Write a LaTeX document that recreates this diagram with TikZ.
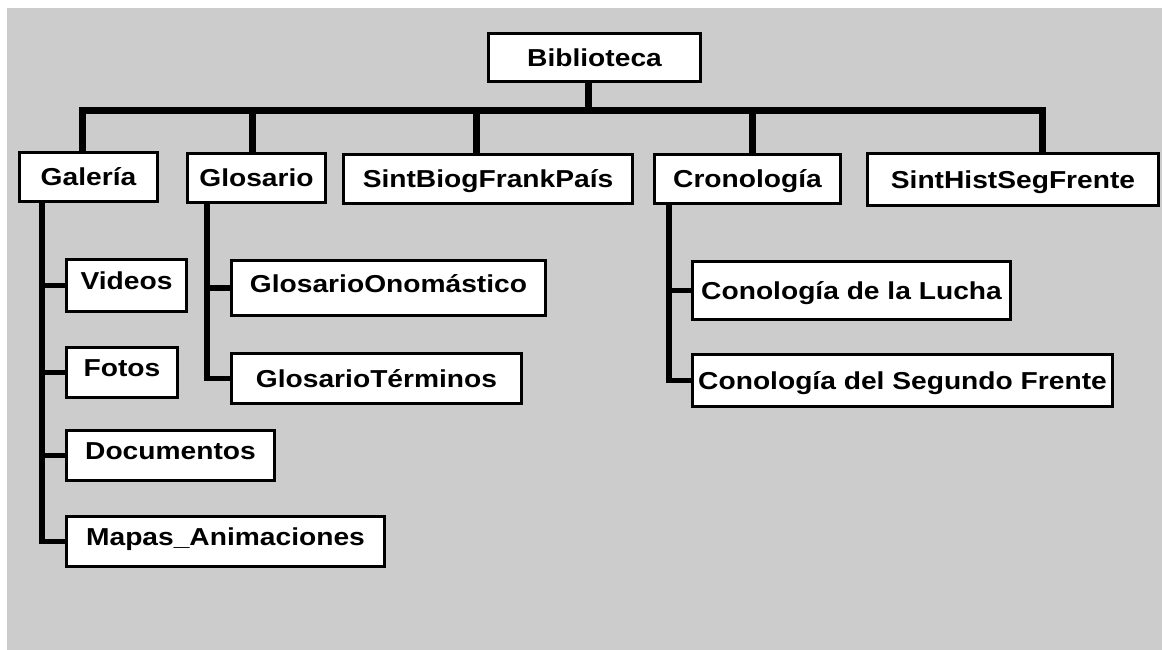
\documentclass[tikz,border=0pt]{standalone}
\usepackage{fontspec}
\newfontfamily\boxfont[FakeStretch=1.15]{Liberation Sans}
\begin{document}
\begin{tikzpicture}[x=1pt,y=-1pt,
  box/.style={draw=black, line width=3pt, fill=white, inner sep=0pt,
    text height=17.5pt, text depth=0pt,
    font=\boxfont\bfseries\fontsize{24.5}{29}\selectfont},
  up/.style={text depth=9pt},
  bus/.style={line width=7pt, line join=miter, line cap=butt},
  branch/.style={line width=5.5pt, line join=miter, line cap=butt}]

% page and grey panel
\useasboundingbox (0,0) rectangle (1162,650);
\fill[white] (0,0) rectangle (1162,650);
\fill[gray!40] (7,8) rectangle (1162,650);

% root
\node[box, minimum width=212, minimum height=48] (bib) at (594.5,57.5) {Biblioteca};

% first level
\node[box, minimum width=138, minimum height=49] (gal) at (88.5,177) {Galería};
\node[box, minimum width=138, minimum height=49] (glo) at (256.5,178) {Glosario};
\node[box, minimum width=289, minimum height=49] (sbf) at (488,179) {SintBiogFrankPaís};
\node[box, minimum width=186, minimum height=49] (cro) at (747.5,179) {Cronología};
\node[box, minimum width=291, minimum height=52] (shs) at (1013,179.5) {SintHistSegFrente};

% Galería children
\node[box, up, minimum width=120, minimum height=52] (vid) at (126.5,285.5) {Videos};
\node[box, up, minimum width=111, minimum height=50] (fot) at (122,372.5) {Fotos};
\node[box, up, minimum width=208, minimum height=50] (doc) at (170.5,455.5) {Documentos};
\node[box, up, minimum width=318, minimum height=50] (map) at (225.5,541.5) {Mapas\_Animaciones};

% Glosario children
\node[box, up, minimum width=314, minimum height=55] (gon) at (388.5,288) {GlosarioOnomástico};
\node[box, minimum width=290, minimum height=50] (gte) at (376.5,378.5) {GlosarioTérminos};

% Cronología children
\node[box, minimum width=318, minimum height=58] (clu) at (851.5,290.5) {Conología de la Lucha};
\node[box, minimum width=420, minimum height=52] (csf) at (902.5,380.5) {Conología del Segundo Frente};

% bus from the root to the first level
\coordinate (root) at (588,111);
\coordinate (busL) at (82,111);
\coordinate (busR) at (1042,111);
\coordinate (dGlo) at (252,111);
\coordinate (dSbf) at (476,111);
\coordinate (dCro) at (752,111);
\draw[bus] (root |- bib.south) -- (root);
\draw[bus] (busL |- gal.north) -- (busL) -- (busR) -- (busR |- shs.north);
\draw[bus] (dGlo) -- (dGlo |- glo.north);
\draw[bus] (dSbf) -- (dSbf |- sbf.north);
\draw[bus] (dCro) -- (dCro |- cro.north);

% Galería tree
\coordinate (galT) at (42,0);
\draw[branch] (galT |- gal.south) |- (map.west);
\draw[branch] (galT |- vid.west) -- (vid.west);
\draw[branch] (galT |- fot.west) -- (fot.west);
\draw[branch] (galT |- doc.west) -- (doc.west);

% Glosario tree
\coordinate (gloT) at (207,0);
\draw[branch] (gloT |- glo.south) |- (gte.west);
\draw[branch] (gloT |- gon.west) -- (gon.west);

% Cronología tree
\coordinate (croT) at (669,0);
\draw[branch] (croT |- cro.south) |- (csf.west);
\draw[branch] (croT |- clu.west) -- (clu.west);
\end{tikzpicture}
\end{document}
